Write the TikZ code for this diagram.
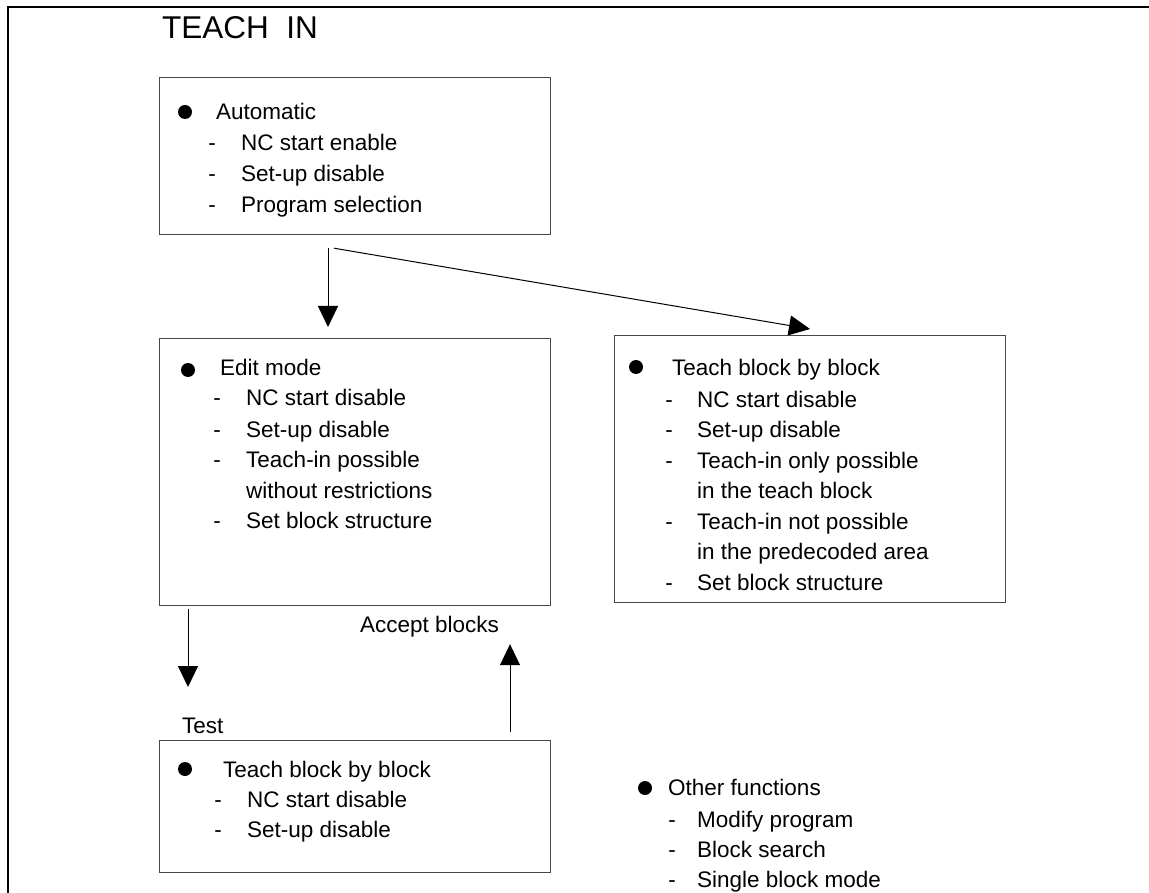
\documentclass[tikz,border=0pt]{standalone}
\usepackage{fontspec}
\setmainfont{Liberation Sans}
\usetikzlibrary{arrows.meta}
\newcommand\subln[5]{\node[dsh] (#1d) at (#2,#4) {-}; \node[txt] (#1) at (#3,#4) {#5};}
\newcommand\contln[4]{\node[txt] (#1) at (#2,#3) {#4};}
\begin{document}
\begin{tikzpicture}[x=1pt,y=-1pt,
  txt/.style={anchor=base west,inner sep=0pt,font=\fontsize{22.5}{27}\selectfont},
  dsh/.style={anchor=base,inner sep=0pt,font=\fontsize{22.5}{27}\selectfont},
  box/.style={draw=black!72,line width=1.2pt,inner sep=0pt,anchor=north west},
  arr/.style={line width=1pt,-{Triangle[width=20pt,length=21pt]}},
  bul/.style={fill=black}]
\useasboundingbox (0,0) rectangle (1149,893);
% frame
\draw[line width=2pt] (8,893) -- (8,7) -- (1149,7);
% title
\node[anchor=base west,inner sep=0pt,font=\fontsize{31.5}{36}\selectfont] (title) at (162,39) {TEACH\ \ IN};
% boxes
\node[box,minimum width=391pt,minimum height=157pt] (auto) at (159,77) {};
\node[box,minimum width=391pt,minimum height=267pt] (edit) at (159,338) {};
\node[box,minimum width=391pt,minimum height=267pt] (teach) at (614,335) {};
\node[box,minimum width=391pt,minimum height=132pt] (test) at (159,740) {};
% automatic box text
\fill[bul] (185,112) circle (7);
\node[txt] (autoh) at (216,120) {Automatic};
\subln{a1}{212}{241}{151}{NC start enable}
\subln{a2}{212}{241}{182}{Set-up disable}
\subln{a3}{212}{241}{213}{Program selection}
% edit box text
\fill[bul] (188,370) circle (7);
\node[txt] (edith) at (220,376) {Edit mode};
\subln{e1}{217}{246}{406}{NC start disable}
\subln{e2}{217}{246}{437}{Set-up disable}
\subln{e3}{217}{246}{467}{Teach-in possible}
\contln{e4}{246}{498}{without restrictions}
\subln{e5}{217}{246}{528}{Set block structure}
% teach box text
\fill[bul] (636,367) circle (7);
\node[txt] (teachh) at (672,375) {Teach block by block};
\subln{t1}{669}{697}{407}{NC start disable}
\subln{t2}{669}{697}{437}{Set-up disable}
\subln{t3}{669}{697}{468}{Teach-in only possible}
\contln{t4}{697}{498}{in the teach block}
\subln{t5}{669}{697}{529}{Teach-in not possible}
\contln{t6}{697}{559}{in the predecoded area}
\subln{t7}{669}{697}{590}{Set block structure}
% test box text
\fill[bul] (185,769) circle (7);
\node[txt] (testh) at (223,777) {Teach block by block};
\subln{s1}{218}{247}{807}{NC start disable}
\subln{s2}{218}{247}{837}{Set-up disable}
% other functions
\fill[bul] (645,788) circle (7);
\node[txt] (oth) at (668,795) {Other functions};
\subln{o1}{672}{697}{827}{Modify program}
\subln{o2}{672}{697}{857}{Block search}
\subln{o3}{672}{697}{887}{Single block mode}
% labels
\node[txt] (acc) at (360,632) {Accept blocks};
\node[txt] (testl) at (182,733) {Test};
% connectors
\draw[arr] ([xshift=169pt,yshift=-13pt]auto.south west) -- ([xshift=169pt,yshift=11pt]edit.north west);
\draw[arr] ([xshift=175pt,yshift=-13pt]auto.south west) -- ([xshift=196pt,yshift=6pt]teach.north west);
\draw[arr] ([xshift=29pt,yshift=-3pt]edit.south west) -- ([xshift=29pt,yshift=53pt]test.north west);
\draw[arr] ([xshift=351pt,yshift=8pt]test.north west) -- ([xshift=351pt,yshift=-38pt]edit.south west);
\end{tikzpicture}
\end{document}
